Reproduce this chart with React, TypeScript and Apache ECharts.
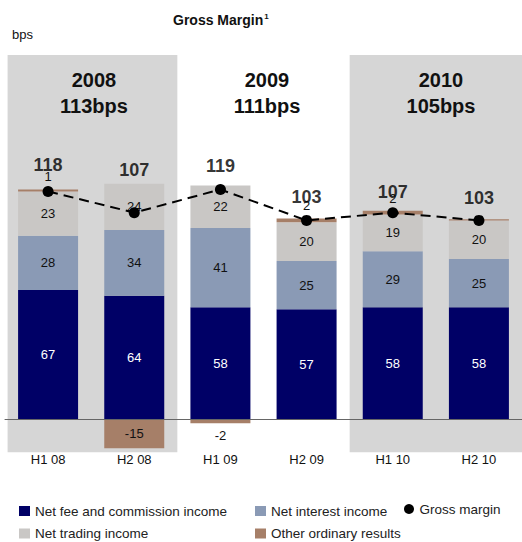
import React, { useEffect, useRef } from "react";
import * as echarts from "echarts";

const categories = ["H1 08", "H2 08", "H1 09", "H2 09", "H1 10", "H2 10"];
const feeCommission = [67, 64, 58, 57, 58, 58];
const netInterest = [28, 34, 41, 25, 29, 25];
const netTrading = [23, 24, 22, 20, 19, 20];
const otherResults = [1, -15, -2, 2, 2, 0.6];
const otherLabelShown = [true, true, true, true, true, false];
const grossMargin = [118, 107, 119, 103, 107, 103];
const totalLabelGap = [24, 14, 20, 21, 19, 21];
const years = ["2008", "2009", "2010"];
const yearMargins = ["113bps", "111bps", "105bps"];

const FONT = "'Liberation Sans', Arial, sans-serif";

export default function App() {
  const ref = useRef<HTMLDivElement>(null);
  useEffect(() => {
    if (!ref.current) return;
    const chart = echarts.init(ref.current, undefined, { renderer: "svg" });
    const positiveTop = categories.map(
      (_, i) =>
        [feeCommission[i], netInterest[i], netTrading[i], otherResults[i]]
          .filter((v) => v > 0)
          .reduce((a, b) => a + b, 0)
    );
    const segLabel = (color: string) => ({
      show: true,
      position: "inside" as const,
      color,
      fontSize: 13,
      fontFamily: FONT,
    });
    const yearCenters = [94, 267, 441];
    const legendBase = {
      orient: "vertical" as const,
      top: 504,
      padding: 0,
      itemWidth: 11,
      itemHeight: 10,
      itemGap: 8.5,
      textStyle: { fontSize: 13.5, color: "#222", fontFamily: FONT },
    };
    chart.setOption({
      animation: false,
      textStyle: { fontFamily: FONT },
      grid: { left: 5, width: 525, top: 33, height: 425 },
      xAxis: [
        {
          type: "category",
          data: categories,
          axisTick: { show: false },
          axisLine: { onZero: true, lineStyle: { color: "#666", width: 1 } },
          axisLabel: { margin: -5, fontSize: 13, color: "#111", fontFamily: FONT },
          z: 10,
        },
        { type: "value", min: 0, max: 6, show: false },
      ],
      yAxis: { type: "value", min: -20, max: 200, show: false, splitLine: { show: false } },
      legend: [
        {
          ...legendBase,
          left: 19,
          icon: "rect",
          data: ["Net fee and commission income", "Net trading income"],
        },
        {
          ...legendBase,
          left: 255,
          icon: "rect",
          data: ["Net interest income", "Other ordinary results"],
        },
        {
          ...legendBase,
          left: 404,
          top: 502,
          icon: "circle",
          data: ["Gross margin"],
        },
      ],
      graphic: [
        {
          type: "text",
          left: 173,
          top: 12,
          z: 100,
          style: {
            text: "Gross Margin{s|1}",
            font: `bold 14px ${FONT}`,
            fill: "#111",
            rich: { s: { fontSize: 8, fontWeight: "bold", verticalAlign: "top", padding: [0, 0, 8, 1] } },
          },
        },
        { type: "text", left: 12, top: 28, z: 100, style: { text: "bps", font: `13px ${FONT}`, fill: "#111" } },
        ...years.flatMap((y, i) => [
          {
            type: "text",
            x: yearCenters[i],
            y: 80,
            z: 100,
            style: { text: y, font: `bold 20px ${FONT}`, fill: "#111", align: "center", verticalAlign: "middle" },
          },
          {
            type: "text",
            x: yearCenters[i],
            y: 106,
            z: 100,
            style: { text: yearMargins[i], font: `bold 20px ${FONT}`, fill: "#111", align: "center", verticalAlign: "middle" },
          },
        ]),
      ],
      series: [
        {
          name: "panels",
          type: "line",
          xAxisIndex: 1,
          data: [],
          silent: true,
          z: 0,
          markArea: {
            silent: true,
            itemStyle: { color: "#d6d6d6" },
            data: [
              [{ coord: [0.03, -17] }, { coord: [2, 188.6] }],
              [{ coord: [4, -17] }, { coord: [6, 188.6] }],
            ],
          },
        },
        {
          name: "Net fee and commission income",
          type: "bar",
          stack: "gm",
          barWidth: 60,
          data: feeCommission,
          itemStyle: { color: "#000066" },
          label: segLabel("#ffffff"),
          z: 2,
        },
        {
          name: "Net interest income",
          type: "bar",
          stack: "gm",
          barWidth: 60,
          data: netInterest,
          itemStyle: { color: "#8a9ab5" },
          label: segLabel("#111"),
          z: 2,
        },
        {
          name: "Net trading income",
          type: "bar",
          stack: "gm",
          barWidth: 60,
          data: netTrading,
          itemStyle: { color: "#c9c7c5" },
          label: segLabel("#111"),
          z: 2,
        },
        {
          name: "Other ordinary results",
          type: "bar",
          stack: "gm",
          barWidth: 60,
          itemStyle: { color: "#a67f68" },
          data: otherResults.map((v, i) => ({
            value: v,
            label: {
              show: otherLabelShown[i],
              position: v <= -5 ? "inside" : v < 0 ? "bottom" : "top",
              distance: v < 0 ? 6 : 6,
              color: "#111",
              fontSize: 13,
              fontFamily: FONT,
              formatter: () => String(v),
            },
          })),
          z: 2,
        },
        {
          name: "totals",
          type: "scatter",
          symbolSize: 0,
          silent: true,
          z: 6,
          data: positiveTop.map((v, i) => ({
            value: v,
            label: {
              show: true,
              position: "top",
              distance: totalLabelGap[i] - 9,
              formatter: () => String(grossMargin[i]),
              fontSize: 18,
              fontWeight: "bold",
              color: "#000",
              fontFamily: FONT,
            },
          })),
        },
        {
          name: "Gross margin",
          type: "line",
          data: grossMargin,
          z: 5,
          symbol: "circle",
          symbolSize: 11,
          itemStyle: { color: "#000" },
          lineStyle: { color: "#000", width: 2, type: [10, 6] },
        },
      ],
    });
    return () => chart.dispose();
  }, []);
  return <div ref={ref} style={{ width: 522, height: 542, position: "absolute", left: 0, top: 0 }} />;
}
